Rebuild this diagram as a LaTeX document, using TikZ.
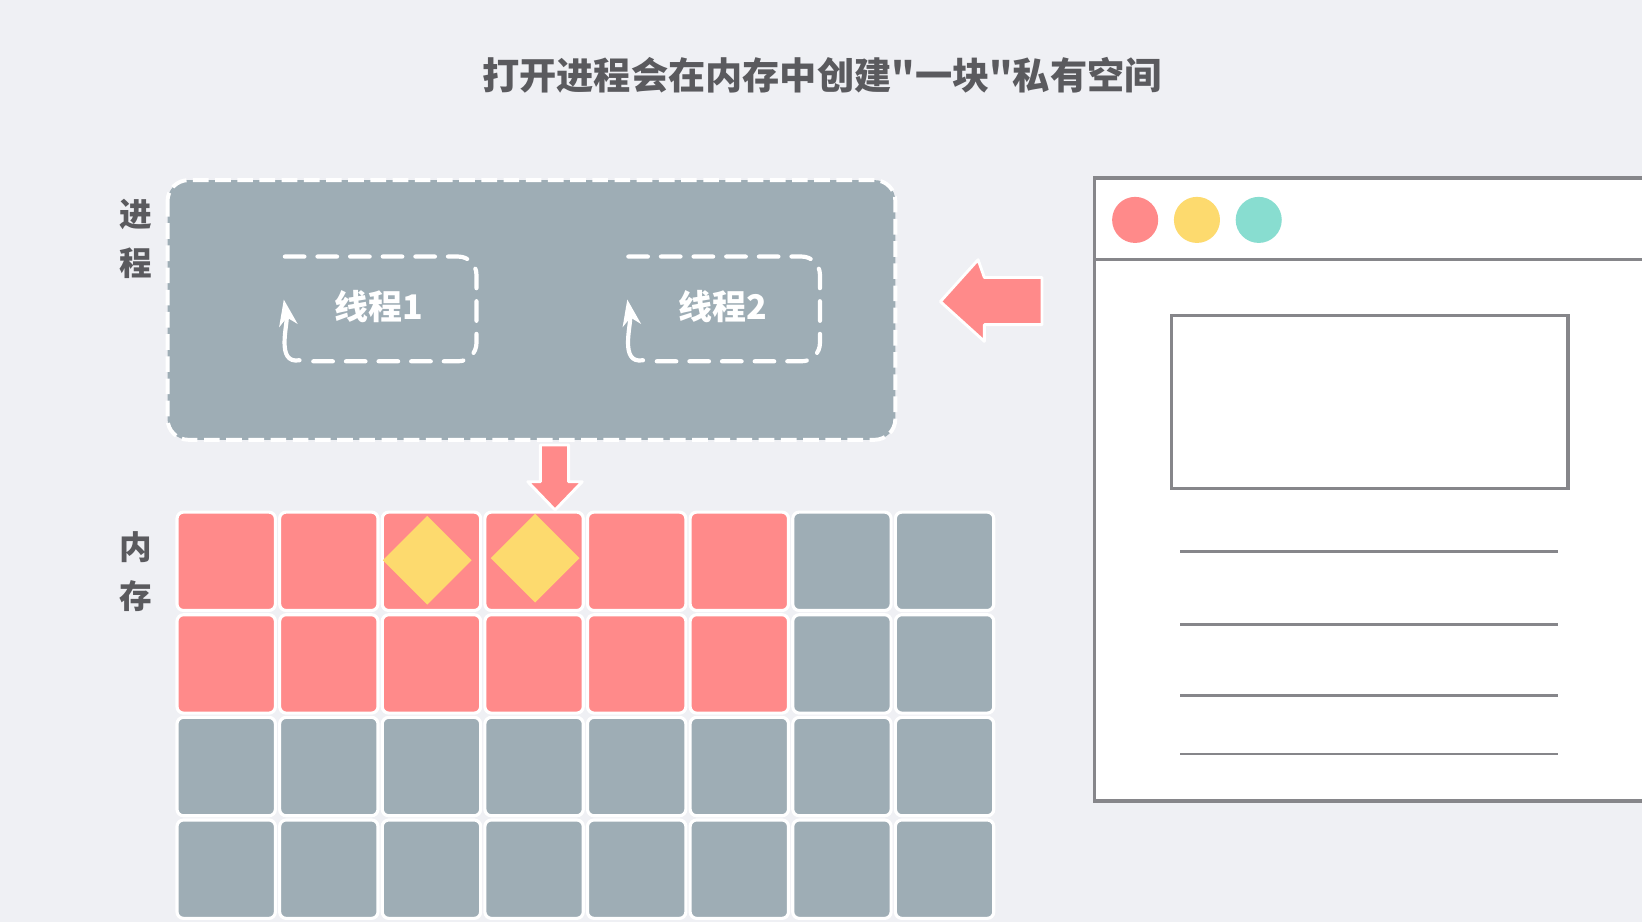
\documentclass[tikz,border=0pt]{standalone}
\usepackage{fontspec}
\newfontfamily\cjk{Noto Sans CJK SC}
\usetikzlibrary{arrows.meta,positioning,calc,shapes.geometric}
\definecolor{bg}{HTML}{EFF0F4}
\definecolor{slate}{HTML}{9EADB5}
\definecolor{rose}{HTML}{FF8A8A}
\definecolor{sun}{HTML}{FDDA6E}
\definecolor{mint}{HTML}{88DDD0}
\definecolor{frame}{HTML}{86868A}
\definecolor{ink}{HTML}{5A5A5E}
\tikzset{
procbox/.style = {draw=white, fill=slate, rounded corners=16pt, dash pattern=on 12pt off 5pt, line width=3pt},
thread/.style = {draw=white, rounded corners=14pt, dash pattern=on 15pt off 10pt, line width=3.2pt, line cap=round},
cell/.style = {draw=white, line width=2.4pt, rounded corners=5pt, minimum width=2.65cm, minimum height=2.65cm, inner sep=0pt},
gem/.style = {diamond, fill=sun, minimum width=2.4cm, minimum height=2.4cm, inner sep=0pt},
side/.style = {font=\cjk\bfseries\fontsize{25}{38}\selectfont, text=ink, align=center},
bigarrow/.style = {draw=white, fill=rose, line width=2.2pt, line join=round}
}
\begin{document}
\begin{tikzpicture}[x=0.0282cm, y=-0.0282cm]
  \fill[bg] (0,0) rectangle (1568,880);
  \useasboundingbox (0,0) rectangle (1568,880);

  \node [font=\cjk\bfseries\fontsize{28.5}{32}\selectfont, text=ink] (title) at (785,72) {打开进程会在内存中创建"一块"私有空间};

  % process
  \draw [procbox] (160,172) rectangle (855,420);
  \node [side] (plabel) at (130,228) {进\\程};
  \node [side] (mlabel) at (130,546) {内\\存};

  \foreach \x/\n in {0/1,328/2} {
    \draw [thread] ($(272,245)+(\x,0)$) -- ($(455,245)+(\x,0)$) -- ($(455,345)+(\x,0)$) -- ($(297,345)+(\x,0)$);
    \draw [white, line width=3.2pt, line cap=round, -{Stealth[length=20pt,width=14pt,inset=6pt]}] ($(286,344)+(\x,0)$) to[out=190,in=-80] ($(271,286)+(\x,0)$);
    \node [font=\cjk\bfseries\fontsize{26}{30}\selectfont, text=white] (thread\n) at ($(362,293)+(\x,0)$) {线程\n};
  }

  % memory grid
  \foreach \r in {0,...,3} {
    \foreach \c in {0,...,7} {
      \pgfmathsetmacro{\isred}{(\r<2 && \c<6) ? 1 : 0}
      \ifnum\isred=1 \def\cc{rose}\else\def\cc{slate}\fi
      \node [cell, fill=\cc] (m\r\c) at (216+98*\c, 536+98*\r) {};
    }
  }
  \node [gem] (g1) at (408,535) {};
  \node [gem] (g2) at (511,533) {};

  % arrows
  \draw [bigarrow] (529,425) -- (543,425) -- (543,460) -- (556,460) -- (530,487) -- (504,460) -- (516,460) -- (516,425) -- cycle;
  \draw [bigarrow] (995,265) -- (995,310) -- (940,310) -- (940,326) -- (898,288) -- (934,248) -- (940,265) -- cycle;

  % browser
  \draw [frame, fill=white, line width=2.6pt] (1600,170) -- (1045,170) -- (1045,765) -- (1600,765);
  \draw [frame, line width=2.6pt] (1045,248) -- (1600,248);
  \fill [rose] (1084,210) circle (22);
  \fill [sun] (1143,210) circle (22);
  \fill [mint] (1202,210) circle (22);
  \node [draw=frame, line width=2.6pt, minimum width=379*0.0282cm, minimum height=165*0.0282cm, inner sep=0pt] (screen) at (1308,384) {};
  \foreach \y in {527,596,664,720}
    \draw [frame, line width=2.2pt] (1127,\y) -- (1488,\y);
\end{tikzpicture}
\end{document}
